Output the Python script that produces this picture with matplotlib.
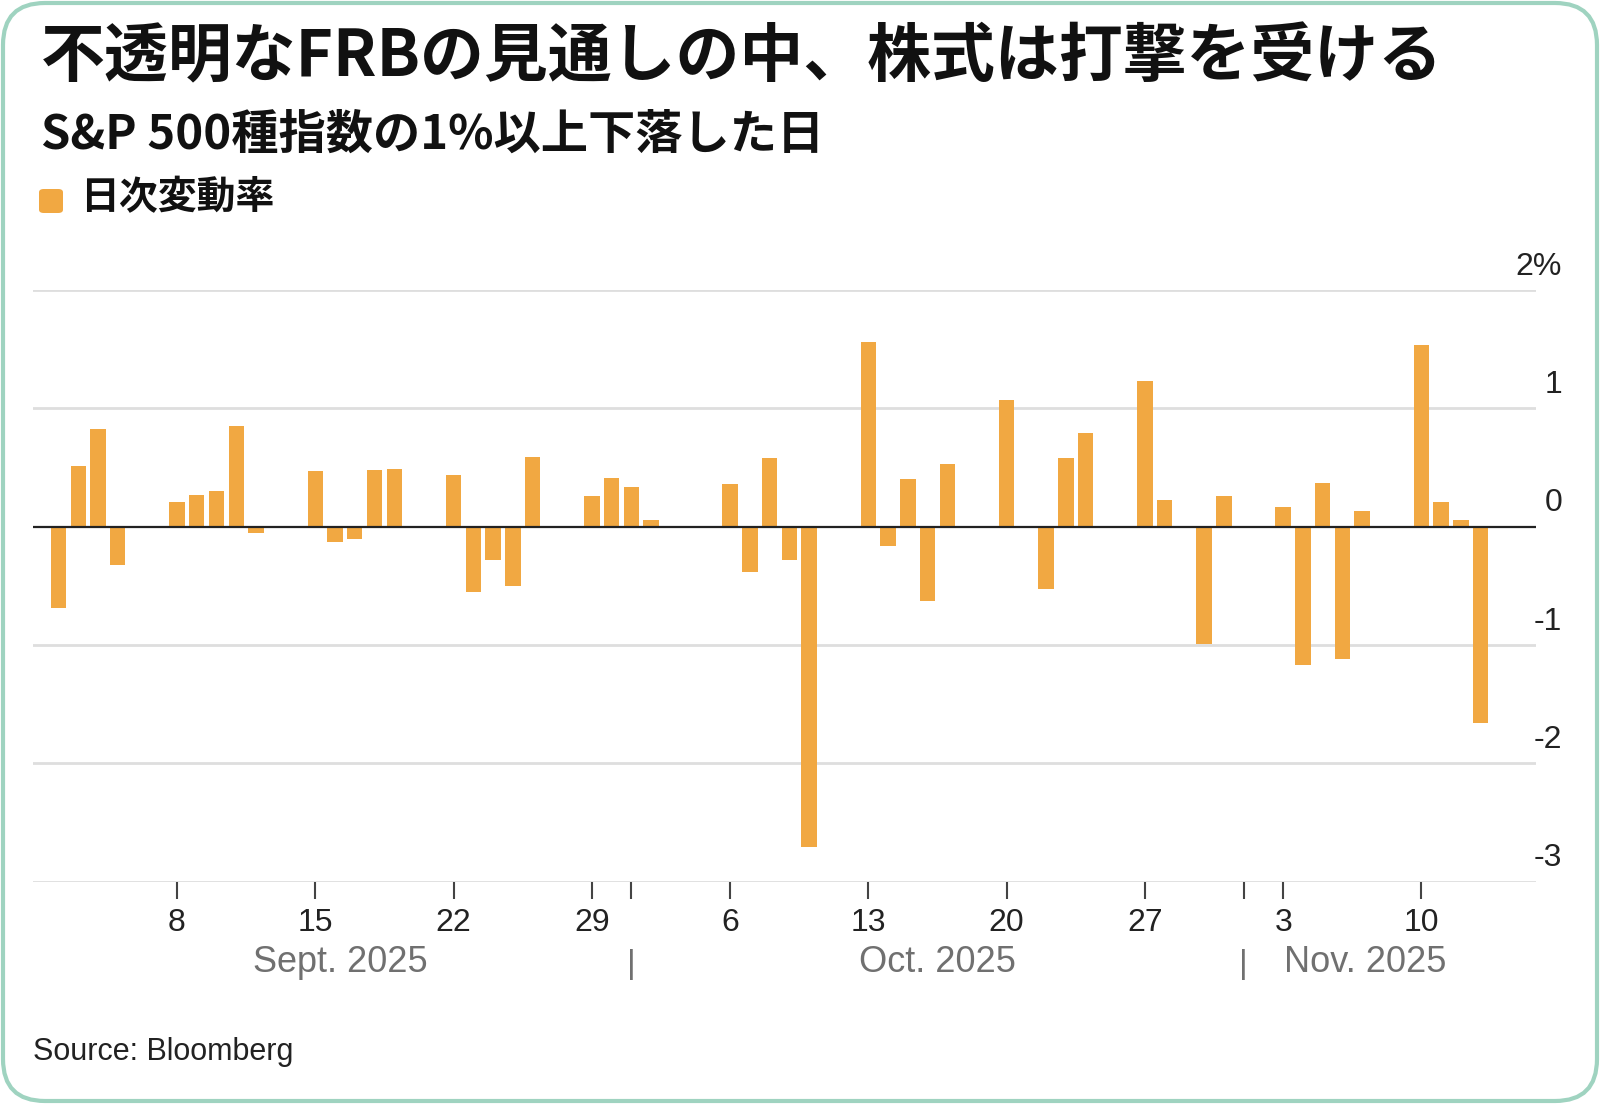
import matplotlib
matplotlib.use('Agg')
import matplotlib.pyplot as plt
import matplotlib.dates as mdates
import matplotlib.transforms as mtransforms
from matplotlib.patches import FancyBboxPatch
import pandas as pd

### Data: S&P 500 daily change (%), Sept 2 - Nov 13, 2025
sep_days = [2, 3, 4, 5, 8, 9, 10, 11, 12, 15, 16, 17, 18, 19, 22, 23, 24, 25, 26, 29, 30]
sep_chg = [-0.69, 0.51, 0.83, -0.32, 0.21, 0.27, 0.30, 0.85, -0.05, 0.47, -0.13, -0.10,
           0.48, 0.49, 0.44, -0.55, -0.28, -0.50, 0.59, 0.26, 0.41]
oct_days = [1, 2, 3, 6, 7, 8, 9, 10, 13, 14, 15, 16, 17, 20, 21, 22, 23, 24, 27, 28, 29, 30, 31]
oct_chg = [0.34, 0.06, 0.01, 0.36, -0.38, 0.58, -0.28, -2.71, 1.56, -0.16, 0.40, -0.63,
           0.53, 1.07, 0.00, -0.53, 0.58, 0.79, 1.23, 0.23, 0.00, -0.99, 0.26]
nov_days = [3, 4, 5, 6, 7, 10, 11, 12, 13]
nov_chg = [0.17, -1.17, 0.37, -1.12, 0.13, 1.54, 0.21, 0.06, -1.66]

y_ticks = [2, 1, 0, -1, -2, -3]
y_labels = ['2%', '1', '0', '-1', '-2', '-3']
x_tick_dates = ['2025-09-08', '2025-09-15', '2025-09-22', '2025-09-29', '2025-10-06',
                '2025-10-13', '2025-10-20', '2025-10-27', '2025-11-03', '2025-11-10']
x_tick_labels = ['8', '15', '22', '29', '6', '13', '20', '27', '3', '10']
month_starts = ['2025-10-01', '2025-11-01']
month_labels = ['Sept. 2025', 'Oct. 2025', 'Nov. 2025']

title = '不透明なFRBの見通しの中、株式は打撃を受ける'
subtitle = 'S&P 500種指数の1%以上下落した日'
legend_label = '日次変動率'
source = 'Source: Bloomberg'

### build series
dates = ([pd.Timestamp(2025, 9, d) for d in sep_days]
         + [pd.Timestamp(2025, 10, d) for d in oct_days]
         + [pd.Timestamp(2025, 11, d) for d in nov_days])
chg = sep_chg + oct_chg + nov_chg
xnum = mdates.date2num(dates)

ORANGE = '#f1a842'
CJK = ['Noto Sans CJK JP', 'DejaVu Sans']
NUM = ['Liberation Sans', 'DejaVu Sans']

fig = plt.figure(figsize=(16, 11.04), dpi=100)
fig.patch.set_facecolor('white')

# rounded frame
frame = FancyBboxPatch((0.03, 0.03), 15.94, 10.98, boxstyle='round,pad=0,rounding_size=0.42',
                       transform=fig.dpi_scale_trans, facecolor='none',
                       edgecolor='#9fd3c0', linewidth=3)
fig.patches.append(frame)

fig.text(41 / 1600, 1 - 58 / 1104, title, family=CJK, fontweight='bold',
         fontsize=46, va='center', ha='left', color='#111111')
fig.text(41 / 1600, 1 - 135 / 1104, subtitle, family=CJK, fontweight='bold',
         fontsize=34, va='center', ha='left', color='#111111')
leg_box = FancyBboxPatch((39 / 1600, 1 - 213 / 1104), 24 / 1600, 24 / 1104,
                         boxstyle='round,pad=0,rounding_size=0.003',
                         transform=fig.transFigure, facecolor=ORANGE, edgecolor='none')
fig.patches.append(leg_box)
fig.text(80 / 1600, 1 - 198 / 1104, legend_label, family=CJK, fontweight='bold',
         fontsize=28, va='center', ha='left', color='#111111')

ax = fig.add_axes([33 / 1600, 1 - 881.6 / 1104, (1536 - 33) / 1600, (881.6 - 290.2) / 1104])
ax.bar(xnum, chg, width=0.78, color=ORANGE, zorder=2)
ax.axhline(0, color='#222222', linewidth=1.6, zorder=3)

ax.set_ylim(-3, 2)
ax.set_xlim(mdates.date2num(pd.Timestamp(2025, 9, 1)) - 0.29,
            mdates.date2num(pd.Timestamp(2025, 11, 15)) + 0.8)

for s in ax.spines.values():
    s.set_visible(False)
ax.set_yticks([])
for v in y_ticks:
    if v != 0:
        ax.axhline(v, color='#dedede', linewidth=2, zorder=1)

# y labels sit above the lines at the right end
ylab_tr = mtransforms.blended_transform_factory(ax.transAxes, ax.transData)
for v, lab in zip(y_ticks, y_labels):
    ax.text(1.0173, v + 0.13, lab, transform=ylab_tr, ha='right', va='baseline',
            fontsize=23, family=NUM, color='#222222')

# x ticks
tick_pos = list(mdates.date2num(pd.to_datetime(x_tick_dates))) + list(mdates.date2num(pd.to_datetime(month_starts)))
ax.set_xticks(tick_pos)
ax.set_xticklabels(x_tick_labels + [''] * len(month_starts), fontsize=23, family=NUM, color='#222222')
ax.tick_params(axis='x', length=12, width=1.5, color='#444444', pad=7)

# month labels and separators
xlab_tr = mtransforms.blended_transform_factory(ax.transData, fig.transFigure)
month_centers = [pd.Timestamp(2025, 9, 16, 6), pd.Timestamp(2025, 10, 16, 12), pd.Timestamp(2025, 11, 7, 4)]
for d, lab in zip(month_centers, month_labels):
    ax.text(mdates.date2num(d), 1 - 963 / 1104, lab, transform=xlab_tr, ha='center', va='center',
            fontsize=26, family=NUM, color='#707070')
for d in month_starts:
    ax.text(mdates.date2num(pd.Timestamp(d)), 1 - 964 / 1104, '|', transform=xlab_tr,
            ha='center', va='center', fontsize=24, family=NUM, color='#707070')

fig.text(33 / 1600, 1 - 1052 / 1104, source, fontsize=22, family=NUM, color='#222222',
         ha='left', va='center')

fig.savefig('out.png', dpi=100)
